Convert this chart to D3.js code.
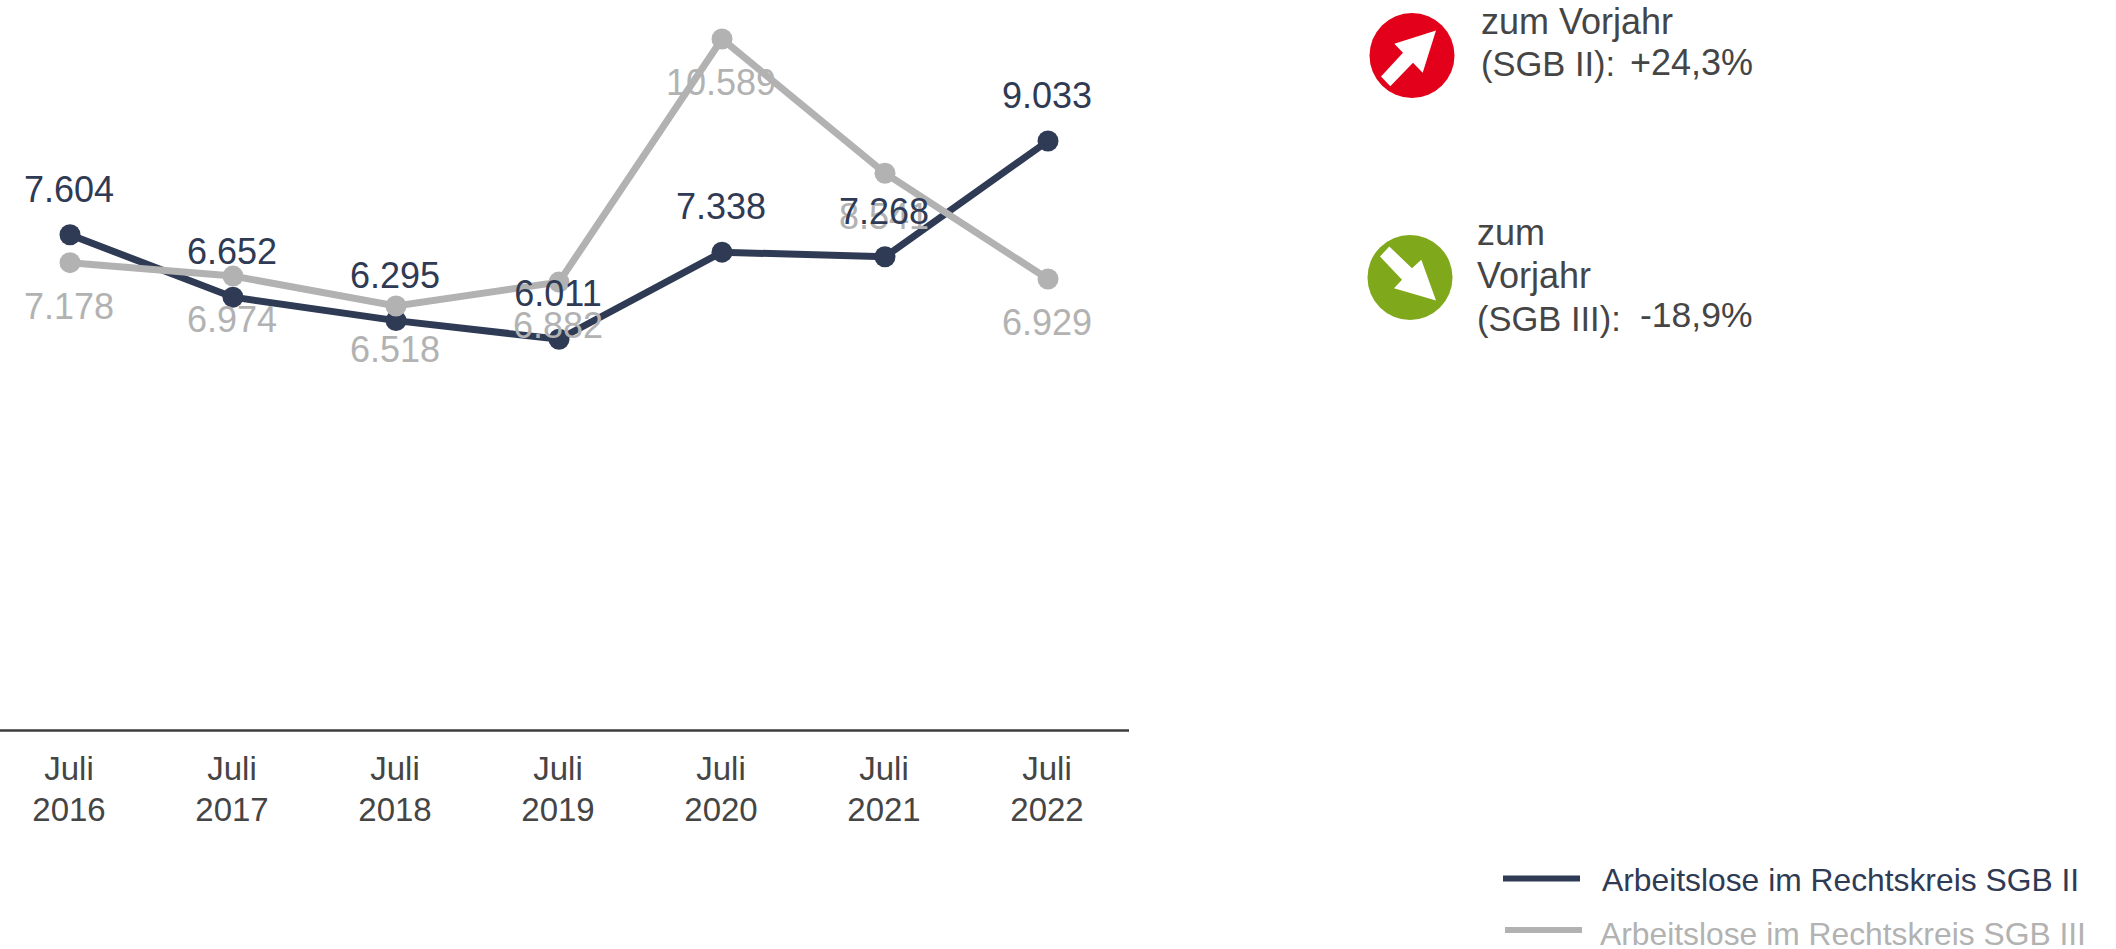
<!DOCTYPE html>
<html>
<head>
<meta charset="utf-8">
<script src="https://cdn.jsdelivr.net/npm/d3@7"></script>
<style>
  html, body { margin: 0; padding: 0; background: #fff; }
  text { font-family: "Liberation Sans", Arial, sans-serif; }
</style>
</head>
<body>
<div id="viz"></div>
<script>
// dimensions
var width = 2116;
var height = 949;

// chart data
var years = ["2016", "2017", "2018", "2019", "2020", "2021", "2022"];
var sgb2 = [7604, 6652, 6295, 6011, 7338, 7268, 9033];
var sgb3 = [7178, 6974, 6518, 6882, 10589, 8541, 6929];
var legendLabels = ["Arbeitslose im Rechtskreis SGB II", "Arbeitslose im Rechtskreis SGB III"];

var darkBlue = "#2f3a54";
var grey = "#b2b2b2";
var textGrey = "#454545";

var svg = d3.select("#viz")
    .append("svg")
    .attr("width", width)
    .attr("height", height)
    .style("display", "block");

var xscale = d3.scalePoint()
    .domain(years)
    .range([70, 1048]);

var yscale = d3.scaleLinear()
    .domain([0, 11000])
    .range([733.5, 12]);

// german thousands separator
var fmt = d3.formatLocale({ decimal: ",", thousands: ".", grouping: [3], currency: ["", "€"] }).format(",d");

// x axis, labels get their two lines below
var xaxis = svg.append("g")
    .attr("transform", "translate(0,730.5)")
    .call(d3.axisBottom(xscale).tickSize(0).tickFormat(""));

xaxis.select(".domain")
    .attr("d", "M0,0H1129")
    .attr("stroke", "#3c3c3c")
    .attr("stroke-width", 2.5);

var tickText = xaxis.selectAll(".tick text")
    .attr("fill", textGrey)
    .style("font-size", "33px")
    .attr("y", 0)
    .attr("dy", null)
    .attr("x", -1.5);

tickText.append("tspan").attr("x", -1.5).attr("y", 49).text("Juli");
tickText.append("tspan").attr("x", -1.5).attr("y", 90).text(function(d) { return d; });

var line = d3.line()
    .x(function(d, i) { return xscale(years[i]); })
    .y(function(d) { return yscale(d); });

// dark series goes first, grey one sits on top of it
function drawSeries(values, color) {
    svg.append("path")
        .datum(values)
        .attr("d", line)
        .attr("fill", "none")
        .attr("stroke", color)
        .attr("stroke-width", 7);

    svg.append("g").selectAll("circle")
        .data(values)
        .enter()
        .append("circle")
        .attr("cx", function(d, i) { return xscale(years[i]); })
        .attr("cy", function(d) { return yscale(d); })
        .attr("r", 10.5)
        .attr("fill", color);
}

function drawLabels(values, color, offset) {
    svg.append("g").selectAll("text")
        .data(values)
        .enter()
        .append("text")
        .attr("x", function(d, i) { return xscale(years[i]) - 1; })
        .attr("y", function(d) { return yscale(d) + offset; })
        .attr("text-anchor", "middle")
        .attr("fill", color)
        .style("font-size", "36px")
        .text(function(d) { return fmt(d); });
}

drawSeries(sgb2, darkBlue);
drawSeries(sgb3, grey);
drawLabels(sgb3, grey, 56);
drawLabels(sgb2, darkBlue, -33);

// year on year badges
function badge(cx, cy, color, arrow) {
    var g = svg.append("g").attr("transform", "translate(" + cx + "," + cy + ")");
    g.append("circle").attr("r", 42.5).attr("fill", color);
    g.append("polygon").attr("points", arrow.join(" ")).attr("fill", "#fff");
}

badge(1412, 55.5, "#e2001a", ["24,-25", "-17.7,-11.7", "-9,-2.7", "-31,21", "-21.7,30.7", "1,7.3", "10.7,17.3"]);
badge(1410, 277.5, "#7fa91b", ["26,23", "-16,10.7", "-8,2.3", "-30,-21", "-20.7,-31", "2,-9.3", "11.3,-17.7"]);

function note(x, y, str, size) {
    svg.append("text")
        .attr("x", x)
        .attr("y", y)
        .attr("fill", textGrey)
        .style("font-size", size + "px")
        .text(str);
}

note(1481, 34, "zum Vorjahr", 36);
note(1481, 76, "(SGB II):", 34.5);
note(1630, 75, "+24,3%", 36);
note(1477, 245, "zum", 36);
note(1477, 288, "Vorjahr", 36);
note(1477, 331, "(SGB III):", 34.5);
note(1640, 327, "-18,9%", 35.5);

// legend
var legendY = [878.5, 930];
var legendColors = [darkBlue, grey];
var legendX = [1503, 1505];
var legendTextX = [1602, 1600];
var legendBase = [891, 945];

legendLabels.forEach(function(label, i) {
    svg.append("line")
        .attr("x1", legendX[i])
        .attr("x2", legendX[i] + 77)
        .attr("y1", legendY[i])
        .attr("y2", legendY[i])
        .attr("stroke", legendColors[i])
        .attr("stroke-width", 6);

    svg.append("text")
        .attr("x", legendTextX[i])
        .attr("y", legendBase[i])
        .attr("fill", legendColors[i])
        .style("font-size", "31.8px")
        .text(label);
});
</script>
</body>
</html>
